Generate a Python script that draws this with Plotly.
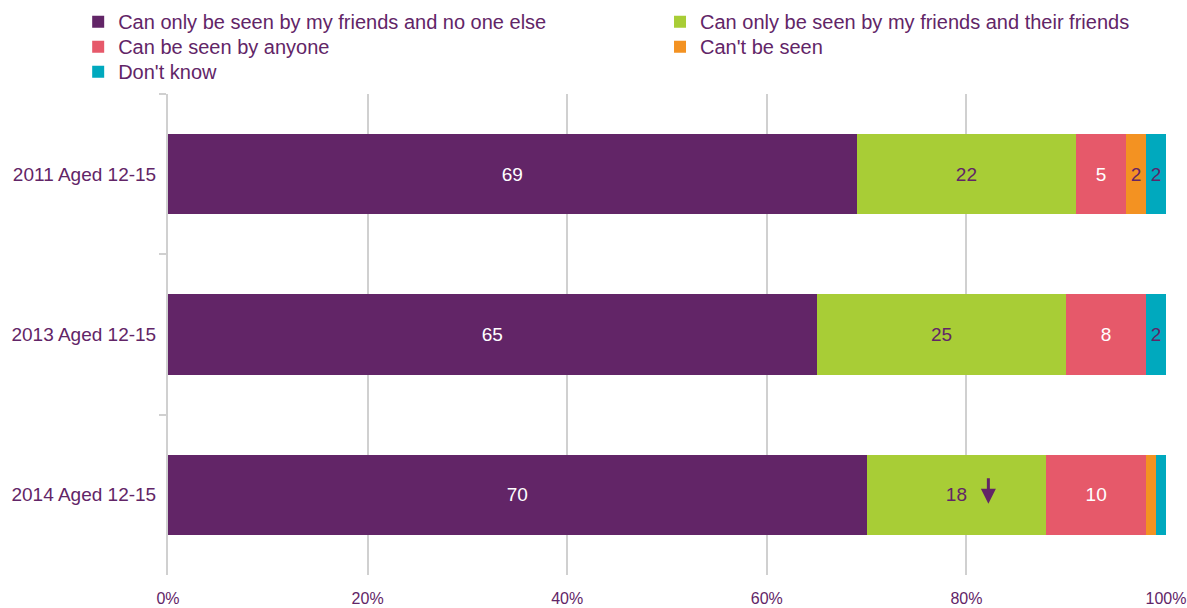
import plotly.graph_objects as go

categories = ["2011 Aged 12-15", "2013 Aged 12-15", "2014 Aged 12-15"]
series_names = [
    "Can only be seen by my friends and no one else",
    "Can only be seen by my friends and their friends",
    "Can be seen by anyone",
    "Can't be seen",
    "Don't know",
]
friends_only = [69, 65, 70]
friends_of_friends = [22, 25, 18]
anyone = [5, 8, 10]
cant_be_seen = [2, 0, 1]
dont_know = [2, 2, 1]

colors = ["#622567", "#a8cd36", "#e6596a", "#f39222", "#00a9be"]
purple = "#622567"
# label colour per series (white on dark fills)
label_colors = ["white", purple, "white", purple, purple]

fig = go.Figure()
all_values = [friends_only, friends_of_friends, anyone, cant_be_seen, dont_know]
for i, (name, vals) in enumerate(zip(series_names, all_values)):
    labels = [str(v) if v >= 2 else "" for v in vals]
    fig.add_trace(
        go.Bar(
            y=categories,
            x=vals,
            name=name,
            orientation="h",
            legend="legend" if i == 0 else f"legend{i + 1}",
            marker=dict(color=colors[i], line=dict(width=0)),
            text=labels,
            texttemplate="%{text}",
            textposition="inside",
            insidetextanchor="middle",
            textangle=0,
            textfont=dict(color=label_colors[i], size=19),
            hoverinfo="x+name",
        )
    )

# downward arrow marking the significant drop in 2014
fig.add_annotation(
    x=82.2, y=categories[2], yshift=-9,
    ax=0, ay=-27,
    showarrow=True, arrowhead=2, arrowsize=1, arrowwidth=3,
    arrowcolor=purple, text="",
)

# one legend per entry so the two-column grid can be placed like the original
legend_style = dict(
    orientation="v",
    yanchor="top", xanchor="left",
    font=dict(size=20, color=purple),
    bgcolor="rgba(0,0,0,0)",
    itemwidth=30,
)
left_x, right_x = -0.09, 0.493
rows_y = [1.191, 1.139, 1.087]
legend_pos = [
    (left_x, rows_y[0]), (right_x, rows_y[0]),
    (left_x, rows_y[1]), (right_x, rows_y[1]),
    (left_x, rows_y[2]),
]
legends = {}
for i, (lx, ly) in enumerate(legend_pos):
    key = "legend" if i == 0 else f"legend{i + 1}"
    legends[key] = dict(x=lx, y=ly, **legend_style)

fig.update_layout(
    barmode="stack",
    bargap=0.5,
    width=1187,
    height=608,
    margin=dict(l=168, r=21, t=94, b=33, autoexpand=False),
    plot_bgcolor="white",
    paper_bgcolor="white",
    font=dict(family="Liberation Sans, Arial, sans-serif", color=purple, size=19),
    uniformtext=dict(minsize=10, mode="show"),
    showlegend=True,
    **legends,
)
fig.update_xaxes(
    range=[0, 100],
    tickvals=[0, 20, 40, 60, 80, 100],
    ticktext=["0%", "20%", "40%", "60%", "80%", "100%"],
    showgrid=True, gridcolor="#d0d0d0", gridwidth=2,
    zeroline=False, showline=False,
    tickfont=dict(size=16, color=purple),
    ticklabelstandoff=12,
    fixedrange=True,
)
fig.update_yaxes(
    autorange="reversed",
    showline=True, linecolor="#d0d0d0", linewidth=2,
    ticks="outside", tickson="boundaries", ticklen=7, tickcolor="#d0d0d0", tickwidth=2,
    tickfont=dict(size=19, color=purple),
    ticklabelstandoff=6,
    showgrid=False,
    fixedrange=True,
)

fig.write_html(
    "out.html",
    config={"displayModeBar": False},
    post_script="document.body.style.margin='0';",
)
